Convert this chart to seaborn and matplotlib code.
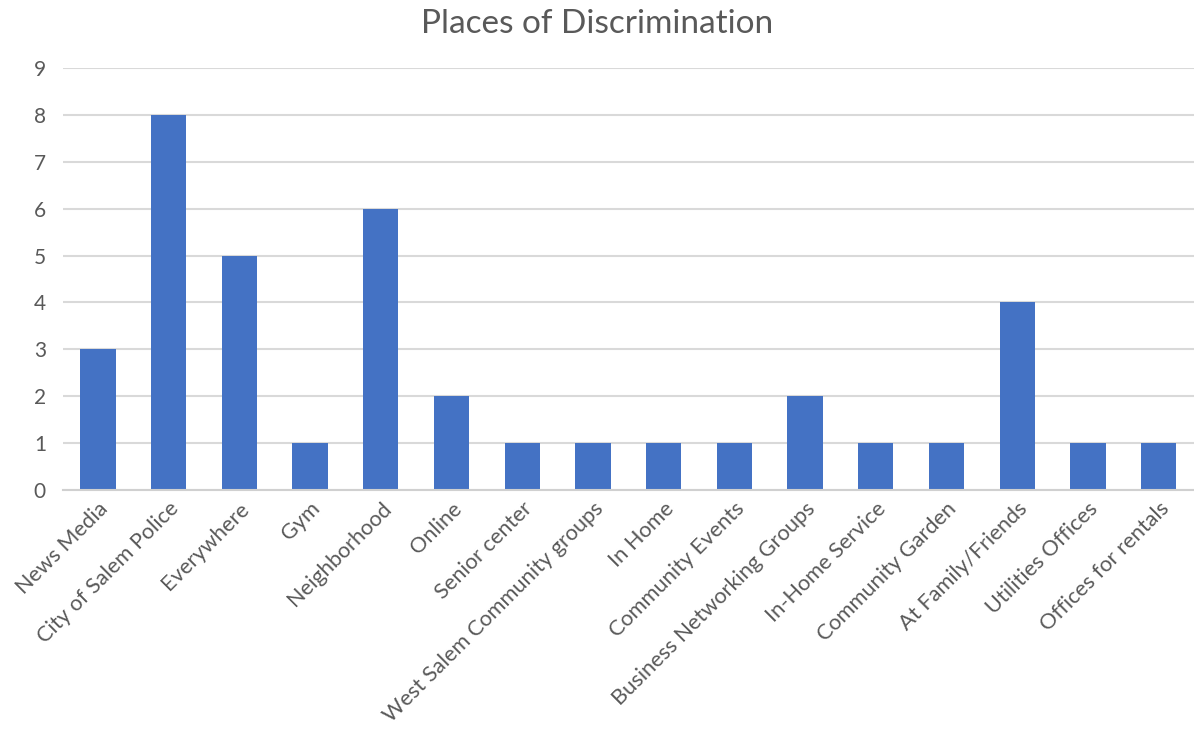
import matplotlib
matplotlib.use("Agg")
import matplotlib.pyplot as plt
import seaborn as sns
import pandas as pd

categories = ["News Media", "City of Salem Police", "Everywhere", "Gym", "Neighborhood",
              "Online", "Senior center", "West Salem Community groups", "In Home",
              "Community Events", "Business Networking Groups", "In-Home Service",
              "Community Garden", "At Family/Friends", "Utilities Offices", "Offices for rentals"]
values = [3, 8, 5, 1, 6, 2, 1, 1, 1, 1, 2, 1, 1, 4, 1, 1]
yticks = list(range(0, 10))

sns.set_theme(style="white")
plt.rcParams['font.family'] = ['Lato', 'DejaVu Sans']

df = pd.DataFrame({"place": categories, "count": values})

fig = plt.figure(figsize=(11.94, 7.42), dpi=100)
ax = fig.add_axes([0.0524, 0.3396, 0.9476, 0.5687])
sns.barplot(data=df, x="place", y="count", color="#4472C4", width=0.5, saturation=1,
            linewidth=0, ax=ax)

ax.set_ylim(0, 9)
ax.set_yticks(yticks)
ax.yaxis.grid(True, color="#D9D9D9", linewidth=1.5)
ax.set_axisbelow(True)
for s in ["top", "right", "left"]:
    ax.spines[s].set_visible(False)
ax.spines["bottom"].set_color("#D0D0D0")
ax.spines["bottom"].set_linewidth(1.5)
ax.set_xlabel("")
ax.set_ylabel("")
ax.tick_params(axis="both", length=0, colors="#595959", labelsize=15)
ax.tick_params(axis="x", labelsize=15.7, pad=6)
ax.tick_params(axis="y", pad=12)
plt.setp(ax.get_xticklabels(), rotation=45, ha="right", rotation_mode="anchor")
ax.set_xlim(-0.5, len(categories) - 0.5)
fig.suptitle("Places of Discrimination", x=0.5, y=0.988, fontsize=24, color="#595959")

fig.savefig("out.png", dpi=100)
